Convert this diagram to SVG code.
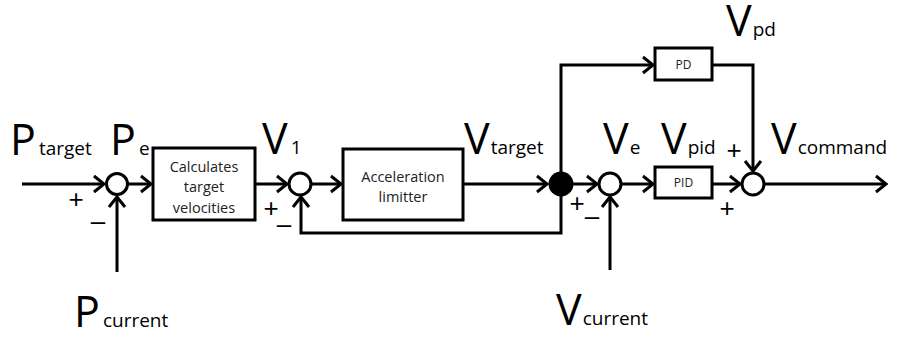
<svg xmlns="http://www.w3.org/2000/svg" width="897" height="340" viewBox="0 0 897 340">
<style>
.ln{fill:none;stroke:#000;stroke-width:3}
.bx{fill:#fff;stroke:#000;stroke-width:3}
.big{font-family:"Open Sans",sans-serif;font-size:43px;fill:#000}
.sub{font-family:"Open Sans",sans-serif;font-size:19px;fill:#000}
.bt{font-family:"Open Sans",sans-serif;font-size:14.5px;fill:#222;text-anchor:middle}
.st{font-family:"Open Sans",sans-serif;font-size:12px;fill:#222;text-anchor:middle}
.sg{font-family:"Liberation Sans",sans-serif;font-size:26px;fill:#000;text-anchor:middle}
</style>
<defs>
<marker id="ar" markerUnits="userSpaceOnUse" markerWidth="20" markerHeight="20" viewBox="-14 -10 16 20" refX="0" refY="0" orient="auto" overflow="visible">
<path d="M-10,-8 L0,0 L-10,8" fill="none" stroke="#000" stroke-width="3" stroke-linejoin="miter"/>
</marker>
</defs>
<rect width="897" height="340" fill="#fff"/>
<g id="connectors">
<path class="ln" d="M22,184 H104" marker-end="url(#ar)"/>
<path class="ln" d="M117,272 V197" marker-end="url(#ar)"/>
<path class="ln" d="M128,184 H151" marker-end="url(#ar)"/>
<path class="ln" d="M255,184 H287" marker-end="url(#ar)"/>
<path class="ln" d="M311,184 H341" marker-end="url(#ar)"/>
<path class="ln" d="M463,184 H547" marker-end="url(#ar)"/>
<path class="ln" d="M561,184 V233 H301 V197" marker-end="url(#ar)"/>
<path class="ln" d="M561,184 V65 H653" marker-end="url(#ar)"/>
<path class="ln" d="M712,65 H753 V171" marker-end="url(#ar)"/>
<path class="ln" d="M573,184 H597" marker-end="url(#ar)"/>
<path class="ln" d="M610,270 V197" marker-end="url(#ar)"/>
<path class="ln" d="M621,184 H653" marker-end="url(#ar)"/>
<path class="ln" d="M712,184 H740" marker-end="url(#ar)"/>
<path class="ln" d="M764,184 H886" marker-end="url(#ar)"/>
</g>
<g id="sum1"><circle class="bx" cx="117" cy="184" r="10.5"/>
<text class="sg" x="76" y="208">+</text><text class="sg" x="98" y="230">–</text></g>
<g id="calc"><rect class="bx" x="153" y="148" width="102" height="72"/>
<text class="bt" x="204" y="172">Calculates</text><text class="bt" x="204" y="192">target</text><text class="bt" x="204" y="213">velocities</text></g>
<g id="sum2"><circle class="bx" cx="300" cy="184" r="11"/>
<text class="sg" x="271" y="217">+</text><text class="sg" x="284" y="233">–</text></g>
<g id="accel"><rect class="bx" x="343" y="149" width="120" height="71"/>
<text class="bt" x="403" y="182">Acceleration</text><text class="bt" x="403" y="202">limitter</text></g>
<g id="branch"><circle cx="561" cy="184" r="12.5" fill="#000"/></g>
<g id="pd"><rect class="bx" x="655" y="48" width="57" height="32"/><text class="st" x="683.5" y="69">PD</text></g>
<g id="sume"><circle class="bx" cx="610" cy="184" r="11"/>
<text class="sg" x="577" y="212">+</text><text class="sg" x="592" y="225">–</text></g>
<g id="pid"><rect class="bx" x="655" y="167" width="57" height="31"/><text class="st" x="683.5" y="187">PID</text></g>
<g id="sum3"><circle class="bx" cx="753" cy="184" r="11"/>
<text class="sg" x="727" y="217">+</text><text class="sg" x="734" y="159">+</text></g>
<g id="labels">
<text x="10" y="155"><tspan class="big">P</tspan><tspan class="sub" dx="3">target</tspan></text>
<text x="110" y="155"><tspan class="big">P</tspan><tspan class="sub" dx="3">e</tspan></text>
<text x="262" y="154"><tspan class="big">V</tspan><tspan class="sub" dx="3">1</tspan></text>
<text x="464" y="154"><tspan class="big">V</tspan><tspan class="sub" dx="1">target</tspan></text>
<text x="603" y="154"><tspan class="big">V</tspan><tspan class="sub" dx="1">e</tspan></text>
<text x="661" y="154"><tspan class="big">V</tspan><tspan class="sub" dx="1">pid</tspan></text>
<text x="771" y="154"><tspan class="big">V</tspan><tspan class="sub" dx="1">command</tspan></text>
<text x="726" y="36"><tspan class="big">V</tspan><tspan class="sub" dx="1">pd</tspan></text>
<text x="74" y="327"><tspan class="big">P</tspan><tspan class="sub" dx="3">current</tspan></text>
<text x="556" y="325"><tspan class="big">V</tspan><tspan class="sub" dx="1">current</tspan></text>
</g>
</svg>
